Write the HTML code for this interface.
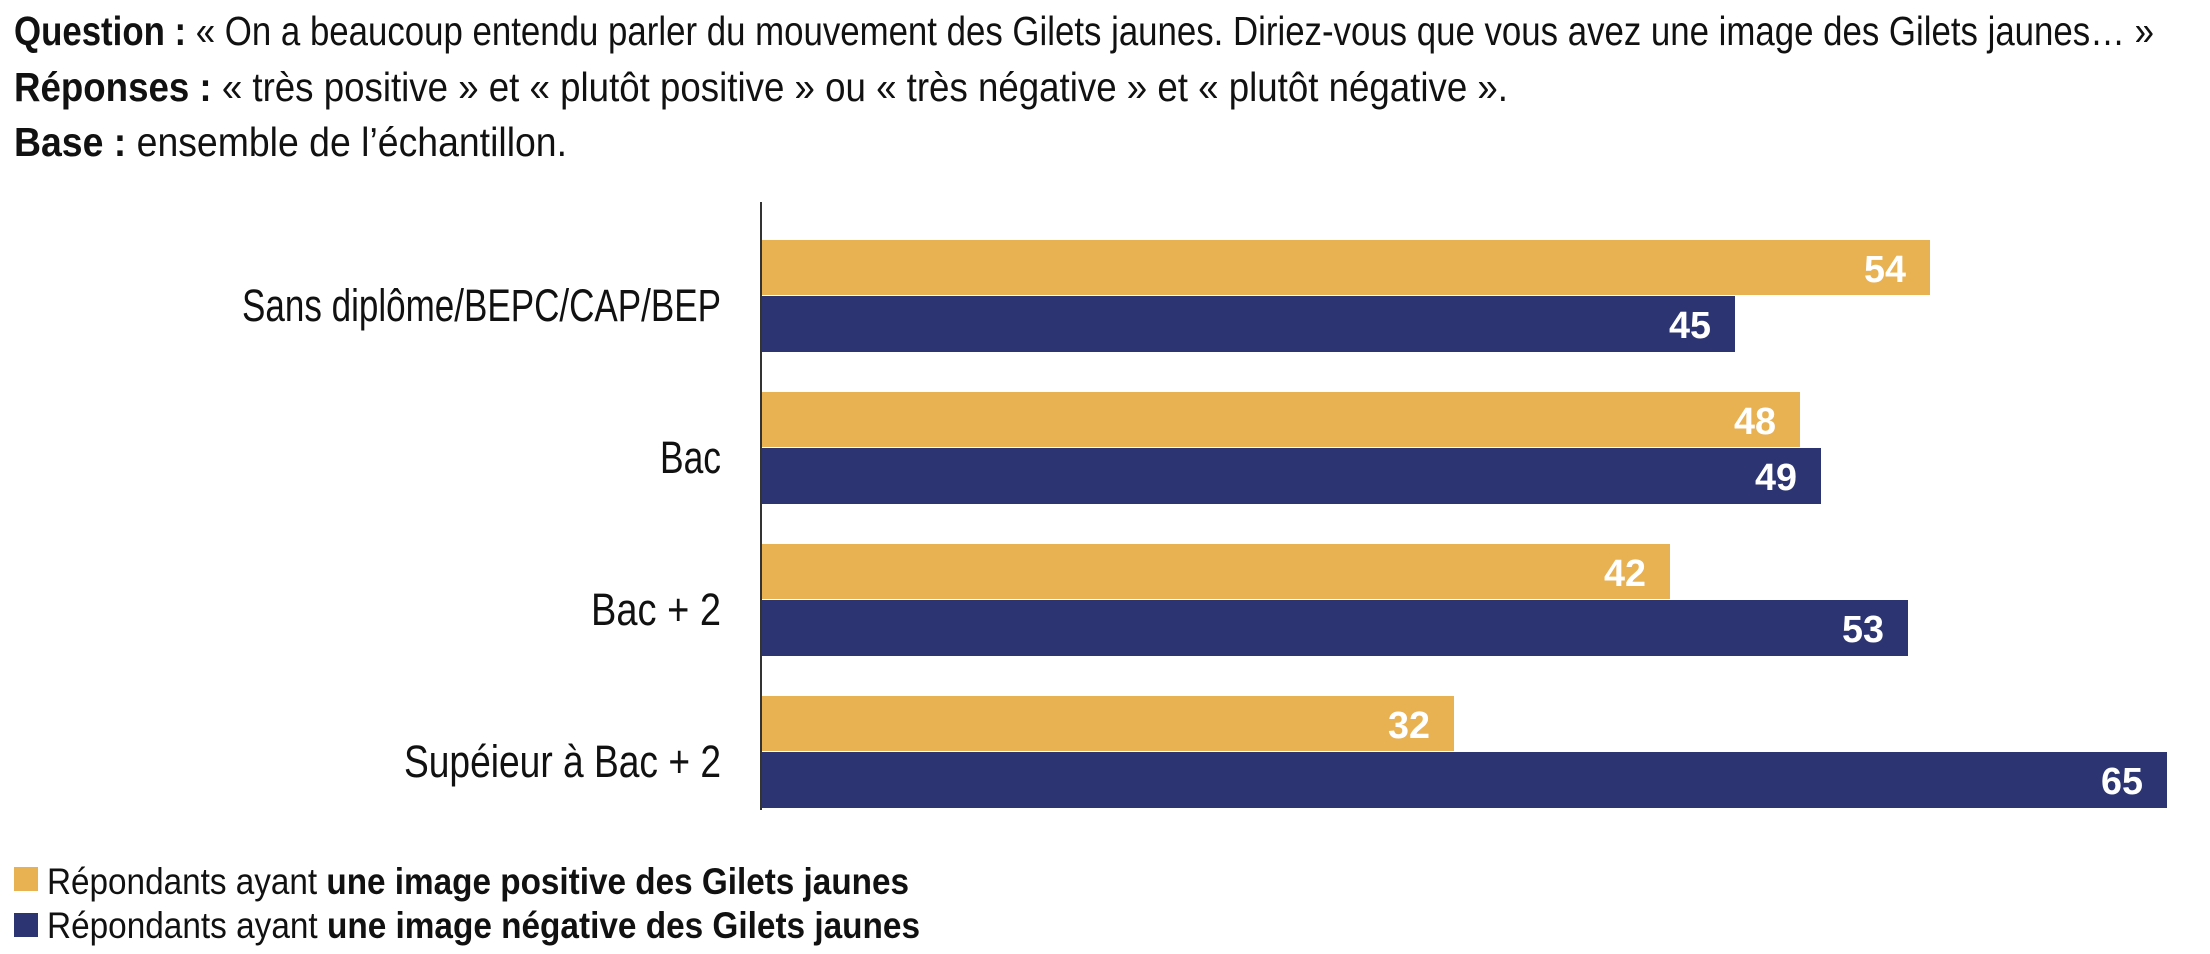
<!DOCTYPE html>
<html><head><meta charset="utf-8"><style>html,body{margin:0;padding:0;background:#fff}svg{display:block}</style></head>
<body>
<svg width="2210" height="954" xmlns="http://www.w3.org/2000/svg" font-family="Liberation Sans, Arial, sans-serif">
<g fill="#111" font-size="41">
<text x="14" y="45" textLength="2140" lengthAdjust="spacingAndGlyphs"><tspan font-weight="bold">Question :</tspan> « On a beaucoup entendu parler du mouvement des Gilets jaunes. Diriez-vous que vous avez une image des Gilets jaunes… »</text>
<text x="14" y="101" textLength="1494" lengthAdjust="spacingAndGlyphs"><tspan font-weight="bold">Réponses :</tspan> « très positive » et « plutôt positive » ou « très négative » et « plutôt négative ».</text>
<text x="14" y="156" textLength="553" lengthAdjust="spacingAndGlyphs"><tspan font-weight="bold">Base :</tspan> ensemble de l’échantillon.</text>
</g>
<line x1="761" y1="202" x2="761" y2="810" stroke="#333" stroke-width="2"/>
<g>
<rect x="762" y="240" width="1168" height="55" fill="#E8B152"/>
<rect x="762" y="296" width="973" height="56" fill="#2C3572"/>
<rect x="762" y="392" width="1038" height="55" fill="#E8B152"/>
<rect x="762" y="448" width="1059" height="56" fill="#2C3572"/>
<rect x="762" y="544" width="908" height="55" fill="#E8B152"/>
<rect x="762" y="600" width="1146" height="56" fill="#2C3572"/>
<rect x="762" y="696" width="692" height="55" fill="#E8B152"/>
<rect x="762" y="752" width="1405" height="56" fill="#2C3572"/>
</g>
<g fill="#fff" font-weight="bold" font-size="38" text-anchor="end">
<text x="1906" y="282" textLength="42" lengthAdjust="spacingAndGlyphs">54</text>
<text x="1711" y="338" textLength="42" lengthAdjust="spacingAndGlyphs">45</text>
<text x="1776" y="434" textLength="42" lengthAdjust="spacingAndGlyphs">48</text>
<text x="1797" y="490" textLength="42" lengthAdjust="spacingAndGlyphs">49</text>
<text x="1646" y="586" textLength="42" lengthAdjust="spacingAndGlyphs">42</text>
<text x="1884" y="642" textLength="42" lengthAdjust="spacingAndGlyphs">53</text>
<text x="1430" y="738" textLength="42" lengthAdjust="spacingAndGlyphs">32</text>
<text x="2143" y="794" textLength="42" lengthAdjust="spacingAndGlyphs">65</text>
</g>
<g fill="#111" font-size="45" text-anchor="end">
<text x="721" y="321" textLength="479" lengthAdjust="spacingAndGlyphs">Sans diplôme/BEPC/CAP/BEP</text>
<text x="721" y="473" textLength="61" lengthAdjust="spacingAndGlyphs">Bac</text>
<text x="721" y="625" textLength="130" lengthAdjust="spacingAndGlyphs">Bac + 2</text>
<text x="721" y="777" textLength="317" lengthAdjust="spacingAndGlyphs">Supéieur à Bac + 2</text>
</g>
<rect x="14" y="867" width="24" height="24" fill="#E8B152"/>
<rect x="14" y="913" width="24" height="24" fill="#2C3572"/>
<g fill="#111" font-size="37">
<text x="47" y="894" textLength="862" lengthAdjust="spacingAndGlyphs">Répondants ayant <tspan font-weight="bold">une image positive des Gilets jaunes</tspan></text>
<text x="47" y="938" textLength="873" lengthAdjust="spacingAndGlyphs">Répondants ayant <tspan font-weight="bold">une image négative des Gilets jaunes</tspan></text>
</g>
</svg>
</body></html>
